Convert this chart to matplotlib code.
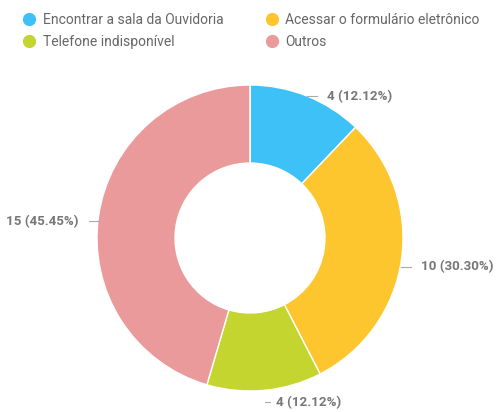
import numpy as np
import matplotlib.pyplot as plt
from matplotlib.lines import Line2D

# data
categories = ['Encontrar a sala da Ouvidoria', 'Acessar o formulário eletrônico',
              'Telefone indisponível', 'Outros']
counts = [4, 10, 4, 15]
colors = ['#3ec1f7', '#fdc62f', '#c3d52e', '#eb9a9b']

plt.rcParams['font.family'] = ['Roboto', 'DejaVu Sans']

fig = plt.figure(figsize=(5, 4.12), dpi=100)
ax = fig.add_axes([0, 0, 1, 1])

cx, cy, R = 250, 174, 153
wedges, _ = ax.pie(counts, colors=colors, startangle=90, counterclock=False,
                   center=(cx, cy), radius=R, frame=True,
                   wedgeprops=dict(width=R * 0.51, edgecolor='white', linewidth=1))
ax.set_xlim(0, 500)
ax.set_ylim(0, 412)
ax.set_aspect('equal')
ax.axis('off')

total = sum(counts)
for w, c in zip(wedges, counts):
    ang = np.deg2rad((w.theta1 + w.theta2) / 2)
    ca, sa = np.cos(ang), np.sin(ang)
    ex, ey = cx + R * ca, cy + R * sa
    sgn = 1 if ca >= 0 else -1
    off = 8 + 12 * min(1, 3 * abs(ca))
    ty = ey - (6 - 6 * sa)
    ax.plot([ex, ex + sgn * off * 0.5], [ty, ty], color='#aaaaaa', lw=0.8)
    ax.text(ex + sgn * off, ty, f'{c} ({c / total * 100:.2f}%)',
            ha='left' if sgn > 0 else 'right', va='center',
            fontsize=9.6, color='#777777', fontweight='bold')

handles = [Line2D([], [], marker='o', ls='', markersize=8.5, color=col) for col in colors]
order = [0, 2, 1, 3]
fig.legend([handles[i] for i in order], [categories[i] for i in order],
           ncol=2, loc='upper left', bbox_to_anchor=(0.02, 1.0),
           frameon=False, fontsize=10, labelcolor='#666666',
           handletextpad=0.45, columnspacing=3.0, labelspacing=0.6,
           handlelength=1.0)

fig.savefig('out.png', dpi=100)
